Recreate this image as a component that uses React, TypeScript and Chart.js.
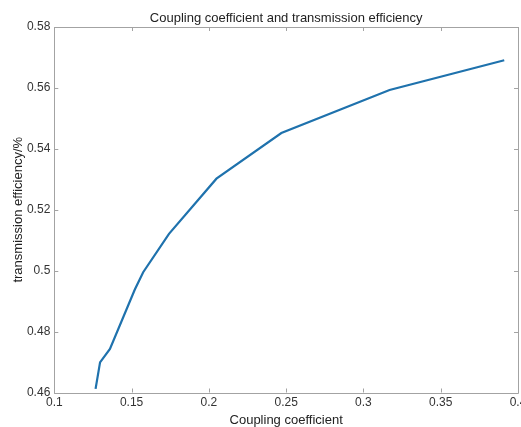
import React, { useEffect, useRef } from "react";
import { Chart, registerables } from "chart.js";

Chart.register(...registerables);

const TITLE = "Coupling coefficient and transmission efficiency";
const X_LABEL = "Coupling coefficient";
const Y_LABEL = "transmission efficiency/%";

const couplingCoefficient = [0.1267, 0.1296, 0.136, 0.1521, 0.1575, 0.1742, 0.2049, 0.2469, 0.3169, 0.3911];
const transmissionEfficiency = [0.4612, 0.4699, 0.4743, 0.4938, 0.4995, 0.5121, 0.5302, 0.5452, 0.5593, 0.5691];

const xTicks = [0.1, 0.15, 0.2, 0.25, 0.3, 0.35, 0.4];
const yTicks = [0.46, 0.48, 0.5, 0.52, 0.54, 0.56, 0.58];

const W = 521;
const H = 427;
const FONT = "'Liberation Sans', Arial, Helvetica, sans-serif";

const framePlugin = {
  id: "matlabFrame",
  afterDraw(chart: any) {
    const { ctx, chartArea } = chart;
    const { left, right, top, bottom } = chartArea;
    const xs = chart.scales.x;
    const ys = chart.scales.y;
    const tl = 4;
    ctx.save();
    ctx.strokeStyle = "#a3a3a3";
    ctx.lineWidth = 1;
    ctx.beginPath();
    ctx.rect(Math.round(left) + 0.5, Math.round(top) + 0.5, Math.round(right - left), Math.round(bottom - top));
    ctx.stroke();
    ctx.beginPath();
    xTicks.forEach((v) => {
      const px = Math.round(xs.getPixelForValue(v)) + 0.5;
      ctx.moveTo(px, bottom);
      ctx.lineTo(px, bottom - tl);
      ctx.moveTo(px, top);
      ctx.lineTo(px, top + tl);
    });
    yTicks.forEach((v) => {
      const py = Math.round(ys.getPixelForValue(v)) + 0.5;
      ctx.moveTo(left, py);
      ctx.lineTo(left + tl, py);
      ctx.moveTo(right, py);
      ctx.lineTo(right - tl, py);
    });
    ctx.stroke();
    ctx.restore();
  },
};

export default function App() {
  const ref = useRef<HTMLCanvasElement | null>(null);

  useEffect(() => {
    if (!ref.current) return;
    const data = couplingCoefficient.map((x, i) => ({ x, y: transmissionEfficiency[i] }));
    const chart = new Chart(ref.current, {
      type: "line",
      data: {
        datasets: [
          {
            data,
            borderColor: "#1f72ad",
            borderWidth: 2.2,
            pointRadius: 0,
            fill: false,
            tension: 0,
          },
        ],
      },
      options: {
        animation: false,
        responsive: false,
        maintainAspectRatio: false,
        layout: { padding: { left: 0, right: 3, top: 0, bottom: 0 } },
        plugins: {
          legend: { display: false },
          tooltip: { enabled: false },
          title: {
            display: true,
            text: TITLE,
            fullSize: false,
            color: "#222",
            font: { family: FONT, size: 13, weight: "normal", lineHeight: 1.2 },
            padding: { top: 10.2, bottom: 1.2 },
          },
        },
        scales: {
          x: {
            type: "linear",
            min: 0.1,
            max: 0.4,
            grid: { display: false, drawTicks: false, tickLength: 0 },
            border: { display: false },
            afterBuildTicks: (s: any) => {
              s.ticks = xTicks.map((v) => ({ value: v }));
            },
            afterFit: (s: any) => {
              s.height = 34.5;
              s.paddingLeft = 0;
              s.paddingRight = 0;
            },
            ticks: {
              color: "#333",
              padding: 3,
              maxRotation: 0,
              autoSkip: false,
              font: { family: FONT, size: 12 },
              callback: (v: any) => String(v),
            },
            title: {
              display: true,
              text: X_LABEL,
              color: "#222",
              font: { family: FONT, size: 13, lineHeight: 1.0 },
              padding: { top: 0, bottom: 0 },
            },
          },
          y: {
            type: "linear",
            min: 0.46,
            max: 0.58,
            grid: { display: false, drawTicks: false, tickLength: 0 },
            border: { display: false },
            afterBuildTicks: (s: any) => {
              s.ticks = yTicks.map((v) => ({ value: v }));
            },
            afterFit: (s: any) => {
              s.width = 54.3;
              s.paddingTop = 0;
              s.paddingBottom = 0;
            },
            ticks: {
              color: "#333",
              padding: 4,
              autoSkip: false,
              font: { family: FONT, size: 12 },
              callback: (v: any) => String(v),
            },
            title: {
              display: true,
              text: Y_LABEL,
              color: "#222",
              font: { family: FONT, size: 13, lineHeight: 1.2 },
              padding: { top: 10.2, bottom: 0 },
            },
          },
        },
      },
      plugins: [framePlugin],
    });
    return () => chart.destroy();
  }, []);

  return (
    <div style={{ position: "fixed", left: 0, top: 0, width: W, height: H, background: "#fff" }}>
      <canvas ref={ref} width={W} height={H} style={{ width: W, height: H, display: "block" }} />
    </div>
  );
}
